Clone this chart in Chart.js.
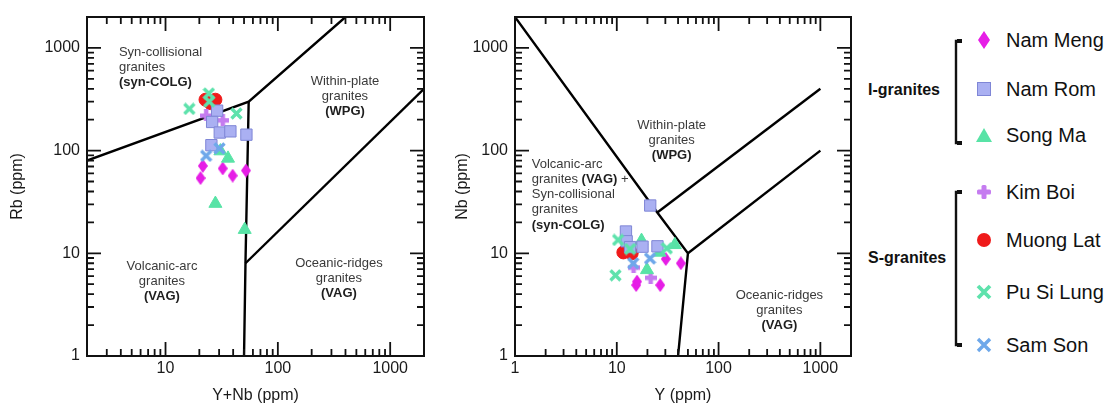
<!DOCTYPE html>
<html><head><meta charset="utf-8">
<script src="https://cdn.jsdelivr.net/npm/chart.js@4.4.1/dist/chart.umd.min.js"></script>
<style>
html,body{margin:0;padding:0;background:#fff;width:1110px;height:405px;overflow:hidden;font-family:"Liberation Sans",Arial,sans-serif;}
.wrap{position:absolute;top:0;height:405px;}
#c1wrap{left:0;width:440px;}
#c2wrap{left:440px;width:420px;}
#legend{position:absolute;left:860px;top:0;width:250px;height:405px;}
.li{position:absolute;left:146px;font-size:20px;color:#111;line-height:24px;white-space:nowrap;}
.gi{position:absolute;left:8px;font-size:16px;font-weight:bold;color:#111;line-height:20px;white-space:nowrap;}
.mk{position:absolute;}
</style></head><body>
<div id="c1wrap" class="wrap"><canvas id="c1" width="440" height="405"></canvas></div>
<div id="c2wrap" class="wrap"><canvas id="c2" width="420" height="405"></canvas></div>
<div id="legend"></div>
<script>
// ---------------- DATA ----------------
const seriesNames = ['Nam Meng','Nam Rom','Song Ma','Kim Boi','Muong Lat','Pu Si Lung','Sam Son'];
const groupNames = ['I-granites','S-granites'];
const xTickLabelsLeft = [10,100,1000];
const xTickLabelsRight = [1,10,100,1000];
const yTickLabels = [1,10,100,1000];

// Panel 1: Rb vs Y+Nb
const namMengYNb = [21.5, 20.5, 32.3, 39.6, 52];
const namMengRb  = [71, 54, 67, 57, 64];
const namRomYNb  = [28.8, 26, 30.4, 37.8, 52.5, 25.6];
const namRomRb   = [245, 190, 150, 154, 143, 113];
const songMaYNb  = [30.8, 36, 27.8, 50.7];
const songMaRb   = [99, 84, 30.5, 17];
const kimBoiYNb  = [23, 32.3];
const kimBoiRb   = [220, 198];
const muongLatYNb= [22.7, 27.8, 25.1];
const muongLatRb = [313, 313, 290];
const puSiLungYNb= [24.3, 24.5, 16.3, 42.8];
const puSiLungRb = [360, 300, 255, 230];
const samSonYNb  = [23, 30.2];
const samSonRb   = [89, 105];

// Panel 2: Nb vs Y
const namMengY   = [15.5, 15.8, 26.7, 30.3, 42.6];
const namMengNb  = [4.9, 5.3, 4.9, 8.8, 8.0];
const namRomY    = [12.3, 12.5, 13.5, 17.9, 25.1, 21.3];
const namRomNb   = [16.3, 13.1, 11.5, 11.6, 11.7, 29.2];
const songMaY    = [17.5, 19.8, 26.3, 37.2];
const songMaNb   = [13.3, 6.9, 10.2, 12.1];
const kimBoiY    = [14.6, 21.5];
const kimBoiNb   = [7.3, 5.8];
const muongLatY  = [11.6, 14, 13];
const muongLatNb = [10.2, 10, 11.5];
const puSiLungY  = [10.3, 13.5, 9.7, 31];
const puSiLungNb = [13.5, 11, 6.1, 11.2];
const samSonY    = [14.5, 21.2];
const samSonNb   = [8.0, 8.9];

// Discrimination boundaries (Pearce et al. 1984)
const rbBoundaryA = [[2,80],[55,300],[400,2000]];
const rbBoundaryB = [[55,300],[51.5,8],[50,1]];
const rbBoundaryC = [[51.5,8],[2000,400]];
const nbBoundaryA = [[1,2000],[25,25],[50,10],[40,1]];
const nbBoundaryB = [[25,25],[1000,400]];
const nbBoundaryC = [[50,10],[1000,100]];

// ---------------- STYLE ----------------
const FONT = '"Liberation Sans", Arial, sans-serif';
const colors = {
  namMeng:'#e61ee6', namRomFill:'#aab0f2', namRomLine:'#7f86d6', songMa:'#58e3a6',
  kimBoi:'#c57cf0', muongLat:'#ef1a1a', puSiLung:'#5ee2ac', samSon:'#6ea8ea'
};
function mk(w,h,draw){const c=document.createElement('canvas');c.width=w;c.height=h;draw(c.getContext('2d'),w,h);return c;}
const diamondImg = mk(10,14,(g,w,h)=>{g.beginPath();g.moveTo(w/2,0);g.lineTo(w,h/2);g.lineTo(w/2,h);g.lineTo(0,h/2);g.closePath();g.fillStyle=colors.namMeng;g.fill();});
const plusImg = mk(12,12,(g,w,h)=>{g.fillStyle=colors.kimBoi;g.fillRect(0,4,12,4.5);g.fillRect(3.8,0,4.5,12);});
function xImg(col){return mk(13,13,(g,w,h)=>{g.strokeStyle=col;g.lineWidth=3.4;g.beginPath();g.moveTo(1.5,1.5);g.lineTo(11.5,11.5);g.moveTo(11.5,1.5);g.lineTo(1.5,11.5);g.stroke();});}
const xGreen = xImg(colors.puSiLung), xBlue = xImg(colors.samSon);

function pts(xs,ys){return xs.map((v,i)=>({x:v,y:ys[i]}));}
function line(arr){return {data:arr.map(p=>({x:p[0],y:p[1]})),showLine:true,pointRadius:0,borderColor:'#000',borderWidth:2.4,fill:false,order:20};}

function sampleDatasets(d){
  return [
    {label:seriesNames[0],data:pts(d[0][0],d[0][1]),pointStyle:diamondImg,pointRadius:7,order:5},
    {label:seriesNames[1],data:pts(d[1][0],d[1][1]),pointStyle:'rect',pointRadius:8,backgroundColor:colors.namRomFill,borderColor:colors.namRomLine,borderWidth:1,order:2},
    {label:seriesNames[2],data:pts(d[2][0],d[2][1]),pointStyle:'triangle',pointRadius:7.5,backgroundColor:colors.songMa,borderColor:colors.songMa,borderWidth:1,order:3},
    {label:seriesNames[3],data:pts(d[3][0],d[3][1]),pointStyle:plusImg,pointRadius:6,order:6},
    {label:seriesNames[4],data:pts(d[4][0],d[4][1]),pointStyle:'circle',pointRadius:6.5,backgroundColor:colors.muongLat,borderColor:colors.muongLat,borderWidth:1,order:7},
    {label:seriesNames[5],data:pts(d[5][0],d[5][1]),pointStyle:xGreen,pointRadius:6,order:1},
    {label:seriesNames[6],data:pts(d[6][0],d[6][1]),pointStyle:xBlue,pointRadius:6,order:0}
  ];
}

// inward ticks + frame
const frameTicks = {
  id:'frameTicks',
  afterDraw(chart){
    const {ctx, chartArea:a, scales:{x,y}} = chart;
    ctx.save();
    ctx.strokeStyle='#111';
    const vals=(min,max)=>{const v=[];for(let k=Math.floor(Math.log10(min));k<=Math.ceil(Math.log10(max));k++)for(let m=1;m<=9;m++){const val=m*Math.pow(10,k);if(val>min*1.001&&val<max*0.999)v.push({val,major:m===1});}return v;};
    ctx.lineWidth=1.8;
    ctx.beginPath();
    for(const t of vals(x.min,x.max)){
      const px=x.getPixelForValue(t.val), L=t.major?14:7;
      ctx.moveTo(px,a.bottom);ctx.lineTo(px,a.bottom-L);
      ctx.moveTo(px,a.top);ctx.lineTo(px,a.top+L);
    }
    for(const t of vals(y.min,y.max)){
      const py=y.getPixelForValue(t.val), L=t.major?14:7;
      ctx.moveTo(a.left,py);ctx.lineTo(a.left+L,py);
      ctx.moveTo(a.right,py);ctx.lineTo(a.right-L,py);
    }
    ctx.stroke();
    ctx.lineWidth=2;
    ctx.strokeRect(a.left,a.top,a.right-a.left,a.bottom-a.top);
    ctx.restore();
  }
};

// region labels
const regionText = {
  id:'regionText',
  beforeDatasetsDraw(chart,args,opts){
    const {ctx, scales:{x,y}} = chart;
    ctx.save();
    ctx.textBaseline='middle';
    for(const lab of opts.items){
      const px=x.getPixelForValue(lab.x), py=y.getPixelForValue(lab.y);
      lab.lines.forEach((segs,i)=>{
        const widths=segs.map(s=>{ctx.font=(s.b?'bold ':'')+'13px '+FONT;return ctx.measureText(s.t).width;});
        const tot=widths.reduce((a,b)=>a+b,0);
        let cx = lab.align==='center'? px-tot/2 : px;
        segs.forEach((s,j)=>{ctx.font=(s.b?'bold ':'')+'13px '+FONT;ctx.fillStyle=s.b?'#1e1e1e':'#3a3a3a';ctx.textAlign='left';ctx.fillText(s.t,cx,py+i*15.2);cx+=widths[j];});
      });
    }
    ctx.restore();
  }
};

function logAxis(min,max,labels,title,isX,fitSize,titlePad){
  return {
    type:'logarithmic',min,max,
    grid:{display:false,drawTicks:false},border:{display:false},
    ticks:{autoSkip:false,maxRotation:0,padding:isX?3:7,color:'#1a1a1a',font:{family:FONT,size:16},
      callback:(v)=>labels.includes(Number(v))?String(v):''},
    title:{display:true,text:title,color:'#1a1a1a',font:{family:FONT,size:16},padding:isX?{top:0,bottom:0}:{top:titlePad,bottom:0}},
    afterFit:(s)=>{ if(isX) s.height=fitSize; else s.width=fitSize; }
  };
}

function makeChart(id,datasets,xmin,xmax,xLabels,xTitle,yTitle,yWidth,padRight,titlePad,labels){
  return new Chart(document.getElementById(id),{
    type:'scatter',
    data:{datasets},
    options:{
      responsive:false,animation:false,devicePixelRatio:1,
      layout:{padding:{top:17,right:padRight,left:0,bottom:0}},
      plugins:{legend:{display:false},tooltip:{enabled:false},regionText:{items:labels}},
      scales:{
        x:logAxis(xmin,xmax,xLabels,xTitle,true,49,0),
        y:logAxis(1,2000,yTickLabels,yTitle,false,yWidth,titlePad)
      }
    },
    plugins:[frameTicks,regionText]
  });
}

const leftLabels = [
  {x:3.85,y:912,align:'left',lines:[[{t:'Syn-collisional'}],[{t:'granites'}],[{t:'(syn-COLG)',b:true}]]},
  {x:396,y:476,align:'center',lines:[[{t:'Within-plate'}],[{t:'granites'}],[{t:'(WPG)',b:true}]]},
  {x:9.3,y:7.5,align:'center',lines:[[{t:'Volcanic-arc'}],[{t:'granites'}],[{t:'(VAG)',b:true}]]},
  {x:350,y:8.05,align:'center',lines:[[{t:'Oceanic-ridges'}],[{t:'granites'}],[{t:'(VAG)',b:true}]]}
];
const rightLabels = [
  {x:34.6,y:177,align:'center',lines:[[{t:'Within-plate'}],[{t:'granites'}],[{t:'(WPG)',b:true}]]},
  {x:1.46,y:73.6,align:'left',lines:[[{t:'Volcanic-arc'}],[{t:'granites '},{t:'(VAG)',b:true},{t:' +'}],[{t:'Syn-collisional'}],[{t:'granites'}],[{t:'(syn-COLG)',b:true}]]},
  {x:396,y:3.93,align:'center',lines:[[{t:'Oceanic-ridges'}],[{t:'granites'}],[{t:'(VAG)',b:true}]]}
];

const ds1 = [line(rbBoundaryA),line(rbBoundaryB),line(rbBoundaryC)].concat(sampleDatasets([
  [namMengYNb,namMengRb],[namRomYNb,namRomRb],[songMaYNb,songMaRb],[kimBoiYNb,kimBoiRb],
  [muongLatYNb,muongLatRb],[puSiLungYNb,puSiLungRb],[samSonYNb,samSonRb]]));
const ds2 = [line(nbBoundaryA),line(nbBoundaryB),line(nbBoundaryC)].concat(sampleDatasets([
  [namMengY,namMengNb],[namRomY,namRomNb],[songMaY,songMaNb],[kimBoiY,kimBoiNb],
  [muongLatY,muongLatNb],[puSiLungY,puSiLungNb],[samSonY,samSonNb]]));

makeChart('c1',ds1,2,2000,xTickLabelsLeft,'Y+Nb (ppm)','Rb (ppm)',87,16,8,leftLabels);
makeChart('c2',ds2,1,2000,xTickLabelsRight,'Y (ppm)','Nb (ppm)',75,9,13,rightLabels);

// ---------------- LEGEND ----------------
const legendY = [40, 89, 135, 192, 240, 292, 345];
const icons = [
  `<svg width="14" height="20"><polygon points="7,1 13,10 7,19 1,10" fill="${colors.namMeng}"/></svg>`,
  `<svg width="16" height="16"><rect x="1.5" y="1.5" width="13" height="13" fill="${colors.namRomFill}" stroke="${colors.namRomLine}" stroke-width="1"/></svg>`,
  `<svg width="18" height="16"><polygon points="9,1 17,15 1,15" fill="${colors.songMa}"/></svg>`,
  `<svg width="16" height="16"><rect x="1" y="5.5" width="14" height="5" rx="1.5" fill="${colors.kimBoi}"/><rect x="5.5" y="1" width="5" height="14" rx="1.5" fill="${colors.kimBoi}"/></svg>`,
  `<svg width="16" height="16"><circle cx="8" cy="8" r="7" fill="${colors.muongLat}"/></svg>`,
  `<svg width="16" height="16"><path d="M2,2 L14,14 M14,2 L2,14" stroke="${colors.puSiLung}" stroke-width="3.8"/></svg>`,
  `<svg width="16" height="16"><path d="M2,2 L14,14 M14,2 L2,14" stroke="${colors.samSon}" stroke-width="3.4"/></svg>`
];
const iconSize = [[14,20],[16,16],[18,16],[16,16],[16,16],[16,16],[16,16]];
const leg = document.getElementById('legend');
let html = '';
seriesNames.forEach((n,i)=>{
  const [w,h]=iconSize[i];
  html += `<div class="mk" style="left:${124-w/2}px;top:${legendY[i]-h/2}px;width:${w}px;height:${h}px">${icons[i]}</div>`;
  html += `<div class="li" style="top:${legendY[i]-12}px">${n}</div>`;
});
html += `<svg style="position:absolute;left:0;top:0" width="250" height="405">
<path d="M101,41 H96 V143 H101" fill="none" stroke="#111" stroke-width="2.4"/>
<path d="M101,192 H96 V345 H101" fill="none" stroke="#111" stroke-width="2.4"/>
<rect x="97" y="39" width="5" height="4" fill="#111"/><rect x="97" y="141" width="5" height="4" fill="#111"/>
<rect x="97" y="190" width="5" height="4" fill="#111"/><rect x="97" y="343" width="5" height="4" fill="#111"/>
</svg>`;
html += `<div class="gi" style="top:80px">${groupNames[0]}</div>`;
html += `<div class="gi" style="top:248px">${groupNames[1]}</div>`;
leg.innerHTML = html;
</script>
</body></html>
